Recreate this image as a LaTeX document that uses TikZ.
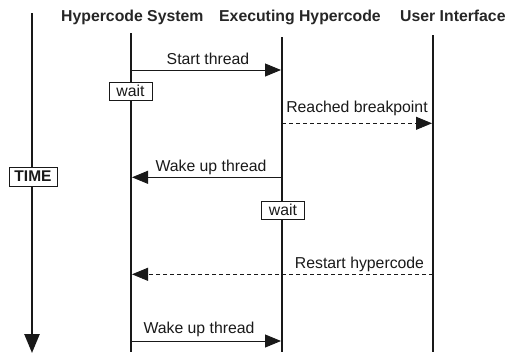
\documentclass[tikz,border=0pt]{standalone}
\usepackage{fontspec}
\setmainfont{Liberation Sans}
\usetikzlibrary{arrows.meta}
\begin{document}
\begin{tikzpicture}[x=1pt,y=-1pt,
  life/.style={line width=2.5pt, draw=black!90},
  msg/.style={line width=0.9pt, draw=black!90, -{Triangle[length=16pt,width=13pt]}},
  dmsg/.style={msg, dash pattern=on 4pt off 3pt},
  lbl/.style={font=\fontsize{15.8}{19}\selectfont, inner sep=0pt, anchor=base, text=black!90},
  head/.style={font=\fontsize{15.8}{19}\selectfont\bfseries, inner sep=0pt, anchor=base west, text=black!85},
  waitbox/.style={draw=black!90, fill=white, line width=0.8pt, font=\fontsize{15.8}{19}\selectfont, minimum width=43pt, minimum height=18pt, inner sep=0pt, text=black!90},
]
\useasboundingbox (0,0) rectangle (506,354);

% headers
\node[head] (h1) at (61,21) {Hypercode System};
\node[head] (h2) at (219,21) {Executing Hypercode};
\node[head] (h3) at (400,21) {User Interface};

% lifeline coordinates
\coordinate (t1) at (131,33);  \coordinate (b1) at (131,352);
\coordinate (t2) at (282,37);  \coordinate (b2) at (282,352);
\coordinate (t3) at (433,35);  \coordinate (b3) at (433,352);
\coordinate (tt) at (32,13);   \coordinate (tb) at (32,353);

\draw[life] (t1) -- (b1);
\draw[life] (t2) -- (b2);
\draw[life] (t3) -- (b3);
\draw[life, -{Triangle[length=19pt,width=15pt]}] (tt) -- (tb);

% TIME box
\node[draw=black!90, fill=white, line width=0.8pt, minimum width=48pt, minimum height=19pt, inner sep=0pt,
      font=\fontsize{15.5}{18}\selectfont\bfseries, text=black!90] (time) at (33,176.5) {TIME};

% messages
\coordinate (m1s) at (131,70);  \coordinate (m1e) at (281,70);
\draw[msg] (m1s) -- (m1e);
\node[lbl] (l1) at (208,64.3) {Start thread};

\node[waitbox] (w1) at (130.5,91) {wait};

\coordinate (m2s) at (282,123.3);  \coordinate (m2e) at (432,123.3);
\draw[dmsg] (m2s) -- (m2e);
\node[lbl] (l2) at (357,112.7) {Reached breakpoint};

\coordinate (m3s) at (282,177.3);  \coordinate (m3e) at (132,177.3);
\draw[msg] (m3s) -- (m3e);
\node[lbl] (l3) at (211,171.7) {Wake up thread};

\node[waitbox] (w2) at (283,210) {wait};

\coordinate (m4s) at (433,274.3);  \coordinate (m4e) at (132,274.3);
\draw[dmsg] (m4s) -- (m4e);
\node[lbl] (l4) at (359.5,268.3) {Restart hypercode};

\coordinate (m5s) at (131,341);  \coordinate (m5e) at (281,341);
\draw[msg] (m5s) -- (m5e);
\node[lbl] (l5) at (199,333.3) {Wake up thread};
\end{tikzpicture}
\end{document}
